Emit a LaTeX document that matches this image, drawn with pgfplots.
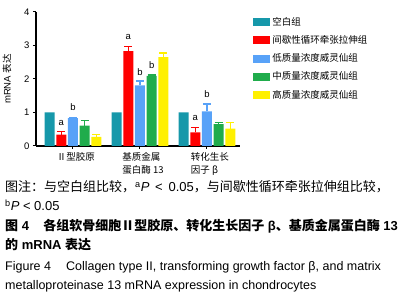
\documentclass[border=0pt]{standalone}
\usepackage{pgfplots}
\pgfplotsset{compat=1.18}
\usepackage{fontspec}
\setmainfont{Liberation Sans}
\newfontfamily\cjk{Noto Sans CJK SC}
\definecolor{cteal}{RGB}{22,152,170}
\definecolor{cred}{RGB}{255,0,0}
\definecolor{cblue}{RGB}{88,162,248}
\definecolor{cgreen}{RGB}{32,172,76}
\definecolor{cyel}{RGB}{255,240,0}
\begin{document}
\begin{tikzpicture}[x=1pt,y=1pt]
\path[use as bounding box] (0,0) rectangle (408,299);
\begin{axis}[
  at={(36pt,153pt)}, anchor=south west,
  scale only axis, width=204pt, height=134pt,
  xmin=-0.552, xmax=2.493, ymin=0, ymax=4,
  axis x line*=bottom, axis y line*=left,
  axis line style={line width=1.2pt,-},
  ybar=1.7pt, bar width=10pt,
  xtick={0,1,2},
  xticklabels={{\cjk Ⅱ型胶原},{\cjk 基质金属\\\cjk 蛋白酶 13},{\cjk 转化生长\\\cjk 因子 β}},
  xticklabel style={align=left, font=\fontsize{9.5}{13}\selectfont, xshift=3pt},
  ytick={0,1,2,3,4},
  yticklabel style={font=\fontsize{9.5}{11}\selectfont},
  /pgf/number format/assume math mode=true,
  tick style={black, line width=1pt},
  major tick length=3pt,
  tick align=outside,
  ylabel={mRNA {\cjk 表达}},
  ylabel style={font=\fontsize{9.5}{11}\selectfont, at={(axis description cs:-0.103,0.5)}},
  legend style={draw=none, fill=none, at={(axis description cs:1.065,0.975)}, anchor=north west,
     font=\fontsize{9.5}{11}\selectfont, row sep=4.6pt, inner sep=0pt,
     /tikz/every even column/.append style={column sep=0pt}},
  legend cell align=left,
  legend image code/.code={\path[#1,draw=none] (0pt,-4pt) rectangle (17pt,4pt);},
  clip=false,
]
\addplot[fill=cteal, draw=none] coordinates {(0,1.0) (1,1.0) (2,1.0)};
\addplot[fill=cred, draw=none, error bars/.cd, y dir=plus, y explicit,
  error bar style={draw=cred, line width=1.3pt}, error mark options={cred, rotate=90, mark size=4pt, line width=1.3pt}]
  coordinates {(0,0.34) +- (0,0.10) (1,2.83) +- (0,0.13) (2,0.41) +- (0,0.14)};
\addplot[fill=cblue, draw=none, error bars/.cd, y dir=plus, y explicit,
  error bar style={draw=cblue, line width=1.3pt}, error mark options={cblue, rotate=90, mark size=4pt, line width=1.3pt}]
  coordinates {(0,0.83) +- (0,0.03) (1,1.81) +- (0,0.13) (2,1.03) +- (0,0.22)};
\addplot[fill=cgreen, draw=none, error bars/.cd, y dir=plus, y explicit,
  error bar style={draw=cgreen, line width=1.3pt}, error mark options={cgreen, rotate=90, mark size=4pt, line width=1.3pt}]
  coordinates {(0,0.61) +- (0,0.15) (1,2.09) +- (0,0.03) (2,0.65) +- (0,0.05)};
\addplot[fill=cyel, draw=none, error bars/.cd, y dir=plus, y explicit,
  error bar style={draw=cyel, line width=1.3pt}, error mark options={cyel, rotate=90, mark size=4pt, line width=1.3pt}]
  coordinates {(0,0.27) +- (0,0.07) (1,2.65) +- (0,0.13) (2,0.52) +- (0,0.18)};
\legend{{\cjk 空白组},{\cjk 间歇性循环牵张拉伸组},{\cjk 低质量浓度威灵仙组},{\cjk 中质量浓度威灵仙组},{\cjk 高质量浓度威灵仙组}}
\begin{scope}[every node/.style={font=\fontsize{9.5}{11}\selectfont, inner sep=0pt}]
\node at (axis cs:-0.1746,0.68) {a};
\node at (axis cs:0,1.155) {b};
\node at (axis cs:0.8254,3.245) {a};
\node at (axis cs:1,2.2) {b};
\node at (axis cs:1.1746,2.41) {b};
\node at (axis cs:1.8254,0.83) {a};
\node at (axis cs:2,1.54) {b};
\end{scope}
\end{axis}
\begin{scope}[every node/.style={anchor=base west, inner sep=0pt, font=\fontsize{13}{15}\selectfont}]
\node at (5,299-192) {{\cjk 图注：与空白组比较，}\textsuperscript{a}\textit{P} \,<\, 0.05{\cjk ，与间歇性循环牵张拉伸组比较，}};
\node at (5,299-211) {\textsuperscript{b}\textit{P} < 0.05};
\node at (5,299-231) {\bfseries{\cjk 图} 4\hspace{1.1em}{\cjk 各组软骨细胞Ⅱ型胶原、转化生长因子} β{\cjk 、基质金属蛋白酶} 13};
\node at (5,299-250) {\bfseries{\cjk 的} mRNA {\cjk 表达}};
\end{scope}
\begin{scope}[every node/.style={anchor=base west, inner sep=0pt, font=\fontsize{12.5}{14}\selectfont}]
\node at (5,299-271) {Figure 4\hspace{1.2em}Collagen type II, transforming growth factor β, and matrix};
\node at (5,299-290) {metalloproteinase 13 mRNA expression in chondrocytes};
\end{scope}
\end{tikzpicture}
\end{document}
